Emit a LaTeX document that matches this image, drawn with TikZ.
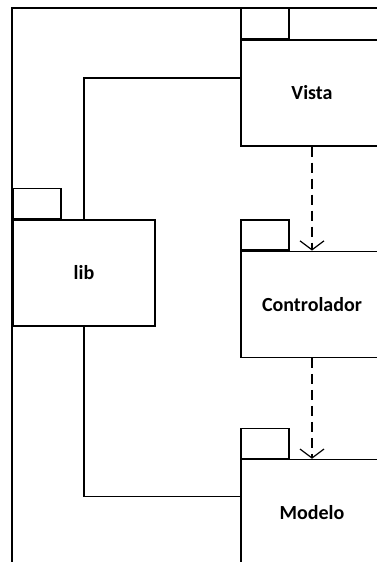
\documentclass[tikz,border=0pt]{standalone}
\usepackage{fontspec}
\setmainfont{Carlito}
\usetikzlibrary{arrows.meta,positioning}
\tikzset{
  pkgbody/.style={draw,line width=1.2pt,minimum width=142pt,minimum height=106pt,inner sep=0pt,font=\bfseries\fontsize{20}{24}\selectfont},
  pkgtab/.style={draw,line width=1.2pt,minimum width=48pt,minimum height=30pt,inner sep=0pt,anchor=south west},
  link/.style={line width=1.2pt},
  depend/.style={line width=1.2pt,dash pattern=on 10pt off 6pt,-{Straight Barb[length=9pt,width=24pt,line width=1.2pt]}}
}
\begin{document}
\begin{tikzpicture}[x=1pt,y=1pt]
\useasboundingbox (0,0) rectangle (377,562);
\clip (0,0) rectangle (377,562);
% frame
\draw[link] (12,-20) -- (12,554) -- (420,554);
% packages
\node[pkgbody] (vista) at (312,469) {Vista};
\node[pkgbody,below=104pt of vista] (controlador) {Controlador};
\node[pkgbody,below=101pt of controlador] (modelo) {Modelo};
\node[pkgbody] (lib) at (84,289) {lib};
\foreach \p in {vista,controlador,modelo,lib}{\node[pkgtab] (\p tab) at (\p.north west) {};}
% connections
\draw[link] (lib.north) |- ([yshift=15pt]vista.west);
\draw[link] (lib.south) |- ([yshift=16pt]modelo.west);
\draw[depend] (vista.south) -- (controlador.north);
\draw[depend] (controlador.south) -- (modelo.north);
\end{tikzpicture}
\end{document}
